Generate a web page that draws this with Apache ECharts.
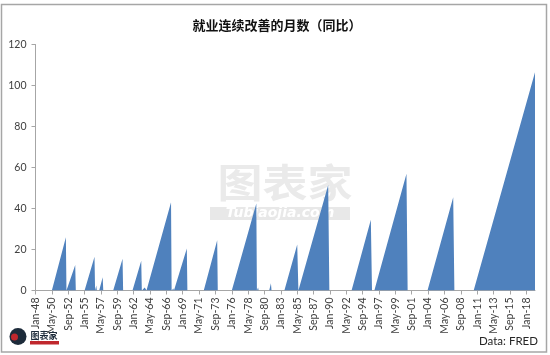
<!DOCTYPE html>
<html>
<head>
<meta charset="utf-8">
<style>
  html, body { margin: 0; padding: 0; background: #fff; }
  #chart { width: 550px; height: 355px; }
</style>
<script src="https://cdn.jsdelivr.net/npm/echarts@6/dist/echarts.min.js"></script>
</head>
<body>
<div id="chart"></div>
<script>
// x = months since Jan-48, one label every 28 months
const tickLabels = ["Jan-48","May-50","Sep-52","Jan-55","May-57","Sep-59","Jan-62","May-64","Sep-66","Jan-69","May-71","Sep-73","Jan-76","May-78","Sep-80","Jan-83","May-85","Sep-87","Jan-90","May-92","Sep-94","Jan-97","May-99","Sep-01","Jan-04","May-06","Sep-08","Jan-11","May-13","Sep-15","Jan-18"];
// vertices of the area outline
const months = [0,28,52,53,56,68,69,84,101,102,104,105,109,115,116,133,149,150,152,154,166,181,182,184,187,190,191,232,233,235,236,237,240,259,260,288,311,312,336,378,379,380,381,382,400,403,404,426,448,450,451,501,503,507,509,511,541,574,576,580,635,637,671,715,717,750,855];
const counts = [0,0,26,0,0,12.5,0,0,16.5,0,2.5,0,0,6.5,0,0,15.5,0,0.5,0,0,14.5,0,0,1.5,0,0,43,0,0,1,0,0,20.5,0,0,24.5,0,0,42.5,0,0,1.5,0,0,3.5,0,0,22.5,0,0,51.5,0,0,0.5,0,0,34.5,0,0,57,0,0,45.5,0,0,106.5];

const points = months.map((m, i) => [m, counts[i]]);
const tickMonths = tickLabels.map((_, i) => i * 28);

const chart = echarts.init(document.getElementById("chart"), null, { renderer: "canvas" });
chart.setOption({
  animation: false,
  backgroundColor: "#fff",
  grid: { left: 35.5, right: 15, top: 44.5, bottom: 64.5 },
  xAxis: {
    type: "value",
    min: 0,
    max: 855,
    splitLine: { show: false },
    axisLine: { onZero: false, lineStyle: { color: "#a6a6a6", width: 1 } },
    axisTick: { length: 4, customValues: tickMonths, lineStyle: { color: "#a6a6a6" } },
    axisLabel: {
      customValues: tickMonths,
      rotate: 90,
      margin: 7,
      color: "#404040",
      fontSize: 10.5,
      fontFamily: "Lato",
      formatter: v => tickLabels[Math.round(v / 28)]
    }
  },
  yAxis: {
    type: "value",
    min: 0,
    max: 120,
    interval: 20,
    splitLine: { show: false },
    axisLine: { show: true, lineStyle: { color: "#a6a6a6", width: 1 } },
    axisTick: { show: true, length: 4, lineStyle: { color: "#a6a6a6" } },
    axisLabel: { margin: 9, color: "#404040", fontSize: 10.5, fontFamily: "Lato" }
  },
  series: [{
    type: "line",
    z: 10,
    data: points,
    symbol: "none",
    lineStyle: { width: 0 },
    areaStyle: { color: "#4f81bd", opacity: 1 }
  }],
  graphic: [
    { type: "rect", z: -5, shape: { x: 1.5, y: 4.5, width: 545, height: 347.5 }, style: { fill: "#fff", stroke: "#a6a6a6", lineWidth: 1.5 } },
    { type: "text", x: 277, y: 25, style: { text: "就业连续改善的月数（同比）", fill: "#111", font: "bold 13px 'Noto Sans CJK SC'", textAlign: "center", textVerticalAlign: "middle" } },
    { type: "text", x: 538, y: 341, style: { text: "Data: FRED", fill: "#262626", font: "11.5px 'Lato'", textAlign: "right", textVerticalAlign: "middle" } },
    // watermark, behind the area
    { type: "text", z: -1, x: 285, y: 182.5, scaleY: 0.85, style: { text: "图表家", fill: "#eaeaea", font: "bold 45px 'Noto Sans CJK SC'", textAlign: "center", textVerticalAlign: "middle" } },
    { type: "rect", z: -1, shape: { x: 210, y: 207, width: 140, height: 13 }, style: { fill: "#e8e8e8" } },
    { type: "text", z: -1, x: 280, y: 213.5, style: { text: "Tubiaojia.com", fill: "#fff", font: "italic bold 14px 'DejaVu Sans'", textAlign: "center", textVerticalAlign: "middle" } },
    // logo
    { type: "circle", z: 50, shape: { cx: 18, cy: 336.5, r: 8.5 }, style: { fill: "#1d2b3a" } },
    { type: "circle", z: 51, shape: { cx: 14.5, cy: 337, r: 3.5 }, style: { fill: "#c0272d" } },
    { type: "text", z: 51, x: 44, y: 335.5, style: { text: "图表家", fill: "#1d2b3a", font: "bold 9px 'Noto Sans CJK SC'", textAlign: "center", textVerticalAlign: "middle" } },
    { type: "rect", z: 51, shape: { x: 30, y: 341, width: 29, height: 3.5 }, style: { fill: "#c0272d" } }
  ]
});
</script>
</body>
</html>
